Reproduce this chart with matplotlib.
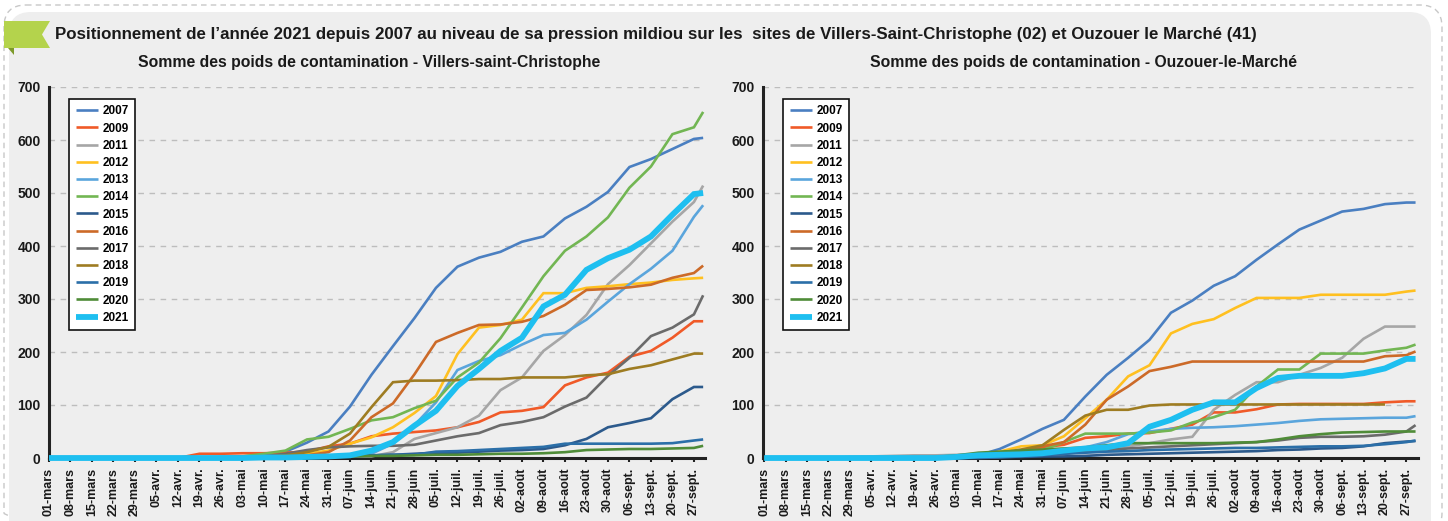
import matplotlib
matplotlib.use("Agg")
import matplotlib.pyplot as plt
from matplotlib.patches import FancyBboxPatch, Polygon
import numpy as np

W, H = 1448, 521
DPI = 100

# x axis: one label per week from 1 March, readings taken at each label + 30 Sept
week_labels = ['01-mars', '08-mars', '15-mars', '22-mars', '29-mars', '05-avr.', '12-avr.',
               '19-avr.', '26-avr.', '03-mai', '10-mai', '17-mai', '24-mai', '31-mai',
               '07-juin', '14-juin', '21-juin', '28-juin', '05-juil.', '12-juil.', '19-juil.',
               '26-juil.', '02-août', '09-août', '16-août', '23-août', '30-août', '06-sept.',
               '13-sept.', '20-sept.', '27-sept.']
days = [7 * i for i in range(len(week_labels))] + [213]

years = ['2007', '2009', '2011', '2012', '2013', '2014', '2015', '2016', '2017',
         '2018', '2019', '2020', '2021']
colors = ['#4a7fc1', '#f05a28', '#a6a6a6', '#ffc020', '#5aa5dc', '#72b653', '#2c5a8c',
          '#cc6a28', '#6b6b6b', '#9e7c22', '#2b6fa8', '#4f8c38', '#1ebff0']

# Villers-Saint-Christophe (02)
vsc_2007 = [0, 0, 0, 0, 0, 0, 0, 1, 2, 3, 5, 12, 29, 50, 97, 157, 211, 264, 321, 361, 378, 389,
            408, 418, 452, 474, 502, 549, 564, 583, 602, 604]
vsc_2009 = [0, 0, 0, 0, 0, 0, 0, 8, 8, 9, 9, 10, 12, 22, 27, 41, 46, 49, 52, 58, 68, 86,
            89, 96, 137, 152, 161, 191, 202, 227, 258, 258]
vsc_2011 = [0, 0, 0, 0, 0, 0, 0, 0, 0, 1, 2, 3, 3, 3, 3, 3, 11, 36, 47, 58, 80, 128,
            152, 202, 232, 270, 328, 364, 405, 446, 483, 514]
vsc_2012 = [0, 0, 0, 0, 0, 0, 0, 0, 0, 1, 3, 5, 8, 14, 27, 39, 58, 85, 117, 196, 246, 251,
            261, 311, 311, 321, 324, 328, 331, 336, 339, 340]
vsc_2013 = [0, 0, 0, 0, 0, 0, 0, 0, 0, 0, 1, 1, 2, 3, 5, 8, 27, 62, 105, 166, 183, 194,
            214, 232, 236, 261, 295, 328, 357, 391, 455, 477]
vsc_2014 = [0, 0, 0, 0, 0, 0, 0, 0, 0, 3, 8, 14, 35, 40, 55, 71, 77, 94, 108, 152, 180, 226,
            284, 343, 391, 418, 454, 510, 550, 611, 624, 653]
vsc_2015 = [0, 0, 0, 0, 0, 0, 0, 0, 0, 0, 1, 2, 2, 3, 3, 5, 6, 8, 10, 10, 12, 14,
            15, 17, 24, 36, 58, 66, 75, 111, 134, 134]
vsc_2016 = [0, 0, 0, 0, 0, 0, 0, 0, 1, 2, 3, 4, 5, 11, 33, 77, 103, 158, 219, 236, 251, 252,
            257, 268, 289, 317, 319, 322, 327, 340, 349, 363]
vsc_2017 = [0, 0, 0, 0, 0, 0, 0, 0, 0, 1, 3, 8, 15, 20, 22, 23, 23, 25, 33, 41, 47, 62,
            68, 77, 97, 114, 155, 189, 230, 246, 271, 307]
vsc_2018 = [0, 0, 0, 0, 0, 0, 0, 0, 0, 1, 2, 5, 11, 21, 46, 96, 143, 146, 146, 147, 149, 149,
            152, 152, 152, 156, 158, 168, 175, 186, 197, 197]
vsc_2019 = [0, 0, 0, 0, 0, 0, 0, 0, 0, 0, 1, 2, 3, 3, 4, 5, 6, 6, 12, 13, 15, 17,
            19, 21, 27, 27, 27, 27, 27, 28, 33, 35]
vsc_2020 = [0, 0, 0, 0, 0, 0, 0, 0, 0, 0, 1, 1, 2, 3, 3, 4, 4, 5, 6, 6, 7, 8,
            8, 9, 11, 15, 16, 17, 17, 18, 19, 23]
vsc_2021 = [0, 0, 0, 0, 0, 0, 0, 0, 0, 0, 1, 1, 2, 3, 5, 14, 30, 61, 89, 136, 168, 202,
            227, 286, 308, 355, 377, 393, 418, 459, 498, 500]

# Ouzouer-le-Marché (41)
olm_2007 = [0, 0, 0, 0, 0, 0, 0, 0, 1, 2, 5, 17, 35, 55, 72, 116, 157, 189, 223, 274, 297, 325,
            343, 374, 403, 431, 448, 465, 470, 479, 482, 482]
olm_2009 = [0, 0, 0, 0, 0, 0, 0, 0, 1, 2, 8, 10, 14, 20, 25, 38, 41, 46, 47, 55, 63, 86,
            86, 92, 101, 102, 102, 102, 102, 105, 107, 107]
olm_2011 = [0, 0, 0, 0, 2, 3, 4, 5, 5, 6, 7, 8, 9, 10, 12, 15, 18, 22, 28, 35, 40, 91,
            119, 143, 143, 157, 170, 189, 225, 248, 248, 248]
olm_2012 = [0, 0, 0, 0, 0, 0, 0, 0, 1, 2, 5, 12, 22, 24, 41, 75, 110, 154, 175, 235, 253, 262,
            283, 302, 302, 302, 308, 308, 308, 308, 314, 316]
olm_2013 = [0, 0, 0, 0, 0, 0, 0, 0, 0, 1, 2, 3, 4, 6, 10, 20, 30, 45, 50, 55, 57, 58,
            60, 63, 66, 70, 73, 74, 75, 76, 76, 79]
olm_2014 = [0, 0, 0, 0, 0, 0, 0, 0, 1, 3, 8, 10, 12, 15, 30, 46, 46, 46, 48, 52, 67, 77,
            91, 135, 167, 167, 197, 197, 197, 203, 208, 214]
olm_2015 = [0, 0, 0, 0, 0, 0, 0, 0, 0, 0, 1, 2, 2, 3, 3, 4, 6, 7, 8, 9, 10, 11,
            12, 13, 15, 16, 18, 19, 22, 28, 31, 32]
olm_2016 = [0, 0, 0, 0, 0, 0, 0, 0, 0, 1, 5, 8, 14, 22, 30, 63, 110, 135, 164, 172, 182, 182,
            182, 182, 182, 182, 182, 182, 182, 192, 194, 201]
olm_2017 = [0, 0, 0, 0, 0, 0, 0, 0, 0, 0, 1, 2, 4, 6, 8, 12, 15, 18, 20, 22, 24, 26,
            28, 30, 33, 38, 40, 40, 41, 44, 50, 62]
olm_2018 = [0, 0, 0, 0, 0, 0, 0, 0, 0, 2, 5, 10, 16, 24, 53, 80, 91, 91, 99, 101, 101, 101,
            101, 101, 101, 101, 101, 101, 101, 101, np.nan, np.nan]
olm_2019 = [0, 0, 0, 0, 0, 0, 0, 0, 0, 0, 0, 1, 3, 5, 8, 10, 12, 13, 15, 16, 17, 18,
            19, 19, 20, 21, 22, 22, 23, 26, 30, 33]
olm_2020 = [0, 0, 0, 0, 0, 0, 0, 0, 2, 5, 10, 12, 14, 16, 18, 20, 24, 28, 28, 28, 28, 28,
            29, 30, 35, 41, 45, 48, 49, 50, 50, 50]
olm_2021 = [0, 0, 0, 0, 0, 0, 0, 0, 0, 2, 5, 6, 7, 9, 14, 18, 20, 28, 59, 72, 91, 105,
            105, 132, 151, 155, 155, 155, 160, 169, 187, 187]

villers = [vsc_2007, vsc_2009, vsc_2011, vsc_2012, vsc_2013, vsc_2014, vsc_2015,
           vsc_2016, vsc_2017, vsc_2018, vsc_2019, vsc_2020, vsc_2021]
ouzouer = [olm_2007, olm_2009, olm_2011, olm_2012, olm_2013, olm_2014, olm_2015,
           olm_2016, olm_2017, olm_2018, olm_2019, olm_2020, olm_2021]

BOLD = dict(family=['Liberation Sans', 'DejaVu Sans'], weight='bold', color='#1a1a1a')


def px_rect(x0, y0, x1, y1):
    return [x0 / W, 1 - y1 / H, (x1 - x0) / W, (y1 - y0) / H]


fig = plt.figure(figsize=(W / DPI, H / DPI), dpi=DPI, facecolor='white')

# background card, dashed outline and green flag
bg = fig.add_axes([0, 0, 1, 1], zorder=-5)
bg.set_xlim(0, W)
bg.set_ylim(H, 0)
bg.axis('off')
bg.add_patch(FancyBboxPatch((4, 5), 1438, 530, boxstyle='round,pad=0,rounding_size=22',
                            fc='none', ec='#c8c8c8', lw=1, ls=(0, (4, 3))))
bg.add_patch(FancyBboxPatch((9, 12), 1422, 530, boxstyle='round,pad=0,rounding_size=22',
                            fc='#eeeeee', ec='none'))
bg.add_patch(Polygon([(4, 21), (50, 21), (42, 34.5), (50, 48), (4, 48)], closed=True,
                     fc='#b4d34c', ec='none'))
bg.add_patch(Polygon([(8, 48), (14, 48), (14, 55)], closed=True, fc='#7d9a2a', ec='none'))

fig.text(55 / W, 1 - 34 / H,
         "Positionnement de l’année 2021 depuis 2007 au niveau de sa pression mildiou sur les"
         "  sites de Villers-Saint-Christophe (02) et Ouzouer le Marché (41)",
         fontsize=12.2, ha='left', va='center', **BOLD)


def draw_panel(rect, series, title, title_x, xlim):
    ax = fig.add_axes(px_rect(*rect))
    ax.set_facecolor('none')
    for year, values, color in zip(years, series, colors):
        lw = 4.2 if year == '2021' else 1.9
        ax.plot(days, values, color=color, lw=lw, label=year, zorder=3, clip_on=False,
                solid_capstyle='butt', solid_joinstyle='miter')
    ax.set_xlim(*xlim)
    ax.set_ylim(0, 700)
    ax.set_yticks(range(0, 701, 100))
    ax.set_xticks(days[:-1])
    ax.set_xticklabels(week_labels, rotation=90, fontsize=9, **BOLD)
    for lab in ax.get_yticklabels():
        lab.set_fontsize(10)
        lab.set_fontfamily(BOLD['family'])
        lab.set_fontweight('bold')
        lab.set_color('#1a1a1a')
    ax.tick_params(axis='y', length=0, pad=6)
    ax.tick_params(axis='x', length=3, width=1.5, color='#222222', pad=4)
    ax.grid(axis='y', color='#bdbdbd', lw=1, ls=(0, (4, 4)))
    ax.set_axisbelow(True)
    for side in ('top', 'right'):
        ax.spines[side].set_visible(False)
    for side in ('left', 'bottom'):
        ax.spines[side].set_color('#222222')
        ax.spines[side].set_linewidth(2.2)
    leg = ax.legend(loc='upper left', bbox_to_anchor=(0.031, 0.968), borderaxespad=0,
                    labelspacing=0.44, handlelength=1.9, handletextpad=0.35,
                    borderpad=0.55, fancybox=False, framealpha=1, edgecolor='#111111',
                    prop=dict(family=BOLD['family'], weight='bold', size=8.5))
    leg.get_frame().set_linewidth(1.2)
    fig.text(title_x / W, 1 - 63 / H, title, fontsize=11.3, ha='center', va='center', **BOLD)
    return ax


draw_panel((49, 87, 705, 458), villers,
           'Somme des poids de contamination - Villers-saint-Christophe', 369, (0, 213.6))
draw_panel((763, 87, 1418, 458), ouzouer,
           'Somme des poids de contamination - Ouzouer-le-Marché', 1083, (-0.4, 213.8))

plt.savefig('out.png', dpi=DPI, facecolor=fig.get_facecolor())
